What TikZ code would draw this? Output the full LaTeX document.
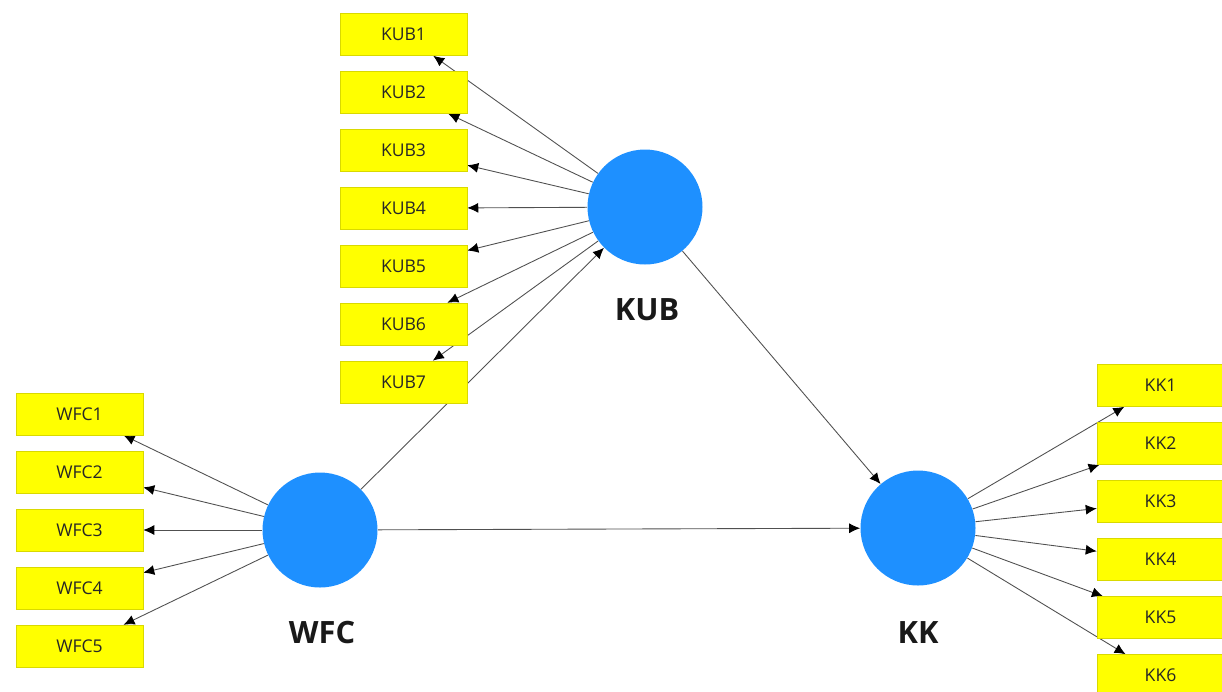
\documentclass[tikz,border=0pt]{standalone}
\usepackage{fontspec}
\setmainfont{Open Sans}
\usetikzlibrary{arrows.meta,backgrounds}
\definecolor{lvblue}{RGB}{30,144,255}
\definecolor{indyellow}{RGB}{255,255,0}
\definecolor{edgegray}{RGB}{80,80,80}
\tikzset{
  indbox/.style={rectangle,fill=indyellow,draw=indyellow!85!black,line width=0.3pt,minimum width=2.54cm,minimum height=0.84cm,inner sep=0pt,font=\fontsize{10}{12}\selectfont,text=black!85},
  latent/.style={circle,fill=lvblue,minimum size=2.3cm,inner sep=0pt},
  lvlabel/.style={font=\fontsize{17.5}{20}\selectfont\bfseries,text=black!90},
  arr/.style={draw=edgegray,line width=0.5pt,-{Latex[length=2.2mm,width=2mm,color=black]}}
}
\begin{document}
\begin{tikzpicture}[x=0.02cm,y=-0.02cm]
\useasboundingbox (0,0) rectangle (1222,691);
% latent variables
\node[latent] (KUB) at (645,207) {};
\node[latent] (WFC) at (320,530) {};
\node[latent] (KK) at (918,528) {};
\node[lvlabel] (KUBl) at (647,310) {KUB};
\node[lvlabel] (WFCl) at (322,632) {WFC};
\node[lvlabel] (KKl) at (918,633) {KK};
% KUB indicators
\foreach \i/\y in {1/34.5,2/92.4,3/150.3,4/208.2,5/266.1,6/324,7/381.9}
  \node[indbox] (KUB\i) at (403.5,\y) {KUB\i};
% WFC indicators
\foreach \i/\y in {1/414,2/472,3/530,4/588,5/646}
  \node[indbox] (WFC\i) at (79.5,\y) {WFC\i};
% KK indicators
\foreach \i/\y in {1/385.5,2/443.5,3/501.5,4/559.5,5/617.5,6/675.5}
  \node[indbox] (KK\i) at (1160.5,\y) {KK\i};
\begin{pgfonlayer}{background}
\foreach \i in {1,...,7} \draw[arr] (KUB) -- (KUB\i);
\foreach \i in {1,...,5} \draw[arr] (WFC) -- (WFC\i);
\foreach \i in {1,...,6} \draw[arr] (KK) -- (KK\i);
\draw[arr] (WFC) -- (KUB);
\draw[arr] (WFC) -- (KK);
\draw[arr] (KUB) -- (KK);
\end{pgfonlayer}
\end{tikzpicture}
\end{document}
